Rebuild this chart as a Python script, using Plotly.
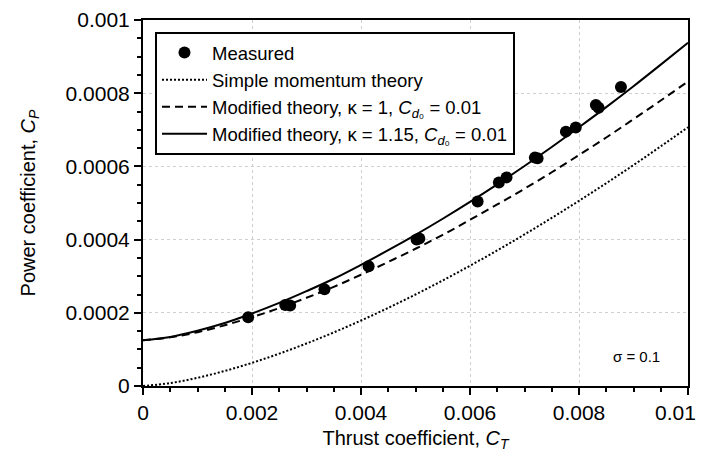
import plotly.graph_objects as go

# ---- data ----
ct_grid = [0.0, 0.0005, 0.001, 0.0015, 0.002, 0.0025, 0.003, 0.0035, 0.004, 0.0045,
           0.005, 0.0055, 0.006, 0.0065, 0.007, 0.0075, 0.008, 0.0085, 0.009, 0.0095, 0.01]
cp_simple = [0.0, 0.0000079, 0.0000224, 0.0000411, 0.0000633, 0.0000884, 0.0001162,
             0.0001464, 0.0001789, 0.0002135, 0.00025, 0.0002884, 0.0003286, 0.0003706,
             0.0004141, 0.0004593, 0.000506, 0.0005541, 0.0006037, 0.0006548, 0.0007071]
cp_mod_k1 = [0.000125, 0.000133, 0.000147, 0.000166, 0.000188, 0.000213, 0.000241,
             0.000271, 0.000304, 0.000339, 0.000375, 0.000413, 0.000454, 0.000496,
             0.000539, 0.000584, 0.000631, 0.000679, 0.000729, 0.00078, 0.000832]
cp_mod_k115 = [0.000125, 0.000134, 0.000151, 0.000172, 0.000198, 0.000227, 0.000259,
               0.000293, 0.000331, 0.000371, 0.000413, 0.000457, 0.000503, 0.000551,
               0.000601, 0.000653, 0.000707, 0.000762, 0.000819, 0.000878, 0.000938]

meas_ct = [0.00193, 0.00261, 0.0027, 0.00333, 0.00414, 0.00502, 0.00507, 0.00614,
           0.00653, 0.00667, 0.00719, 0.00724, 0.00776, 0.00794, 0.00831, 0.00836, 0.00877]
meas_cp = [0.000188, 0.000221, 0.00022, 0.000264, 0.000327, 0.0004, 0.000403, 0.000504,
           0.000556, 0.00057, 0.000624, 0.000622, 0.000695, 0.000706, 0.000768, 0.00076, 0.000817]

x_ticks = [0, 0.002, 0.004, 0.006, 0.008, 0.01]
x_tick_labels = ["0", "0.002", "0.004", "0.006", "0.008", "0.01"]
y_ticks = [0, 0.0002, 0.0004, 0.0006, 0.0008, 0.001]
y_tick_labels = ["0", "0.0002", "0.0004", "0.0006", "0.0008", "0.001"]

FONT = "Liberation Sans, Arial, sans-serif"

# the last x label sits at the page edge: draw it separately, nudged left
x_ticktext = x_tick_labels[:-1] + [""]

fig = go.Figure()
fig.add_trace(go.Scatter(
    x=meas_ct, y=meas_cp, mode="markers", name="Measured",
    marker=dict(color="black", size=12, line=dict(width=0)),
))
fig.add_trace(go.Scatter(
    x=ct_grid, y=cp_simple, mode="lines", name="Simple momentum theory",
    line=dict(color="black", width=2, dash="2px,2px", shape="spline"),
))
fig.add_trace(go.Scatter(
    x=ct_grid, y=cp_mod_k1, mode="lines",
    name="Modified theory, \u03ba = 1, <i>C</i><sub><i>d</i>\u2080</sub> = 0.01",
    line=dict(color="black", width=2, dash="8px,5px", shape="spline"),
))
fig.add_trace(go.Scatter(
    x=ct_grid, y=cp_mod_k115, mode="lines",
    name="Modified theory, \u03ba = 1.15, <i>C</i><sub><i>d</i>\u2080</sub> = 0.01",
    line=dict(color="black", width=2, shape="spline"),
))

axis_common = dict(
    showline=True, linecolor="black", linewidth=2, mirror=True,
    ticks="outside", ticklen=7, tickwidth=1.5, tickcolor="black",
    showgrid=True, gridcolor="#cfcfcf", gridwidth=1, griddash="dot",
    zeroline=False, tickfont=dict(family=FONT, size=21, color="black"),
    automargin=False, ticklabeloverflow="allow",
)

fig.update_xaxes(
    range=[-0.0000001, 0.0100001], tickvals=x_ticks, ticktext=x_ticktext,
    minor=dict(dtick=0.0005, ticklen=4, tickcolor="black", ticks="outside", showgrid=False),
    title=dict(text="Thrust coefficient, <i>C</i><sub><i>T</i></sub>",
               font=dict(family=FONT, size=20, color="black"), standoff=8),
    **axis_common,
)
fig.update_yaxes(
    range=[-0.00000001, 0.00100001], tickvals=y_ticks, ticktext=y_tick_labels,
    minor=dict(dtick=0.00005, ticklen=4, tickcolor="black", ticks="outside", showgrid=False),
    title=dict(text="Power coefficient, <i>C</i><sub><i>P</i></sub>",
               font=dict(family=FONT, size=20, color="black"), standoff=25),
    **axis_common,
)

fig.add_annotation(
    x=x_ticks[-1], y=0, xref="x", yref="paper", text=x_tick_labels[-1],
    showarrow=False, xanchor="center", yanchor="middle", xshift=-12, yshift=-26,
    borderpad=0, font=dict(family=FONT, size=21, color="black"),
)

fig.add_annotation(
    x=0.00906, y=0.0000805, xref="x", yref="y", text="\u03c3 = 0.1", showarrow=False,
    font=dict(family=FONT, size=15, color="black"),
)

fig.update_layout(
    width=696, height=460,
    margin=dict(l=135, r=16, t=12, b=82, autoexpand=False),
    paper_bgcolor="white", plot_bgcolor="white",
    font=dict(family=FONT, color="black"),
    legend=dict(
        x=0.022, y=0.967, xanchor="left", yanchor="top",
        bgcolor="white", bordercolor="black", borderwidth=2,
        font=dict(family=FONT, size=18.5, color="black"),
        itemwidth=45, tracegroupgap=0,
    ),
    showlegend=True,
)

fig.write_html("out.html")
